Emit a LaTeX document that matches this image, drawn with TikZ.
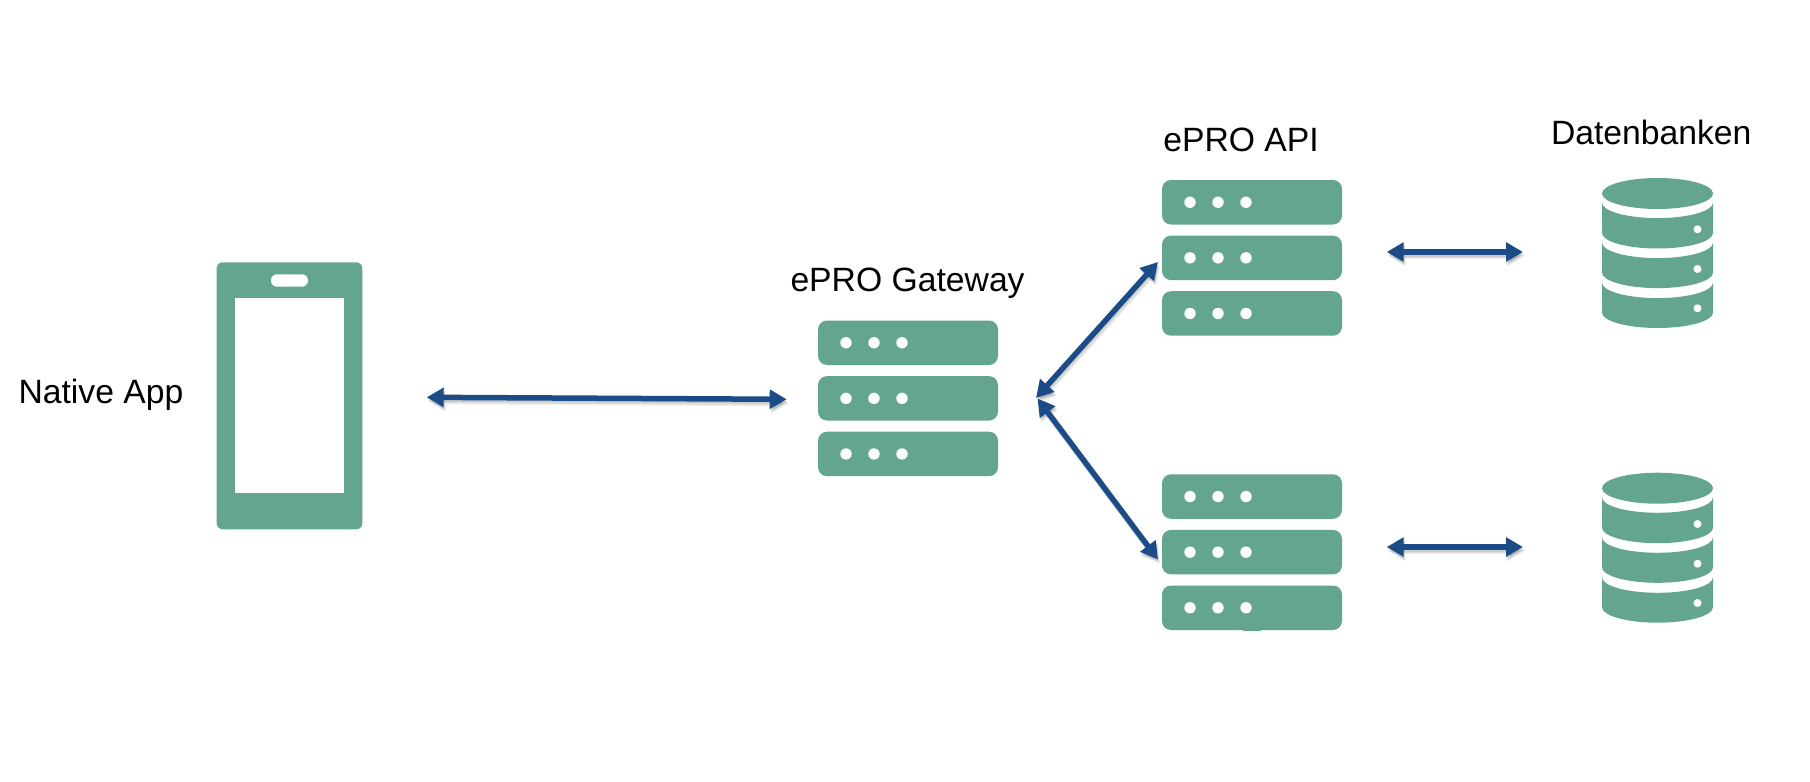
\documentclass[tikz,border=0pt]{standalone}
\usepackage{fontspec}
\setmainfont{Liberation Sans}
\usetikzlibrary{arrows.meta,shapes.geometric}
\definecolor{srvgreen}{HTML}{64A58F}
\definecolor{arrowblue}{HTML}{1C4C88}
\tikzset{
  x=1bp,y=-1bp,
  lbl/.style={anchor=base west,inner sep=0pt,outer sep=0pt,text=black,font=\fontsize{33.7bp}{40bp}\selectfont},
  srvrow/.style={rectangle,fill=srvgreen,draw=none,rounded corners=9bp,minimum width=180bp,minimum height=44.5bp,inner sep=0pt,outer sep=0pt},
  srvdot/.style={circle,fill=white,draw=none,minimum size=11.4bp,inner sep=0pt,outer sep=0pt},
  dbdot/.style={circle,fill=white,draw=none,minimum size=8bp,inner sep=0pt,outer sep=0pt},
  dbtop/.style={ellipse,fill=srvgreen,draw=none,minimum width=111bp,minimum height=31bp,inner sep=0pt,outer sep=0pt},
  link/.style={draw=arrowblue,line width=5.5bp,{Triangle[length=17bp,width=18.5bp,fill=arrowblue]}-{Triangle[length=17bp,width=18.5bp,fill=arrowblue]}},
  linkshadow/.style={draw=black,opacity=0.07,{Triangle[length=17bp,width=19bp,fill=black]}-{Triangle[length=17bp,width=19bp,fill=black]}},
}
% one server row with three dots: name, left x, top y
\newcommand{\srvrowdraw}[3]{%
  \node[srvrow] (#1) at (#2+90,#3+22.25) {};
  \node[srvdot] (#1d1) at (#2+28,#3+22.25) {};
  \node[srvdot] (#1d2) at (#2+56,#3+22.25) {};
  \node[srvdot] (#1d3) at (#2+84,#3+22.25) {};
}
\newcommand{\srvstack}[3]{%
  \srvrowdraw{#1a}{#2}{#3}
  \srvrowdraw{#1b}{#2}{#3+55.6}
  \srvrowdraw{#1c}{#2}{#3+111.2}
}
% one database cylinder: name, y offset
\newcommand{\dbdraw}[2]{%
  \node[dbtop] (#1top) at (1657.5,193.5+#2) {};
  \fill[srvgreen] (1602,202.6+#2) arc[start angle=180,end angle=0,x radius=55.5,y radius=15.5] -- (1713,233+#2) arc[start angle=0,end angle=180,x radius=55.5,y radius=15.5] -- cycle;
  \fill[srvgreen] (1602,242.6+#2) arc[start angle=180,end angle=0,x radius=55.5,y radius=15.5] -- (1713,272.6+#2) arc[start angle=0,end angle=180,x radius=55.5,y radius=15.5] -- cycle;
  \fill[srvgreen] (1602,282.6+#2) arc[start angle=180,end angle=0,x radius=55.5,y radius=15.5] -- (1713,312.5+#2) arc[start angle=0,end angle=180,x radius=55.5,y radius=15.5] -- cycle;
  \node[dbdot] (#1d1) at (1697.5,229.3+#2) {};
  \node[dbdot] (#1d2) at (1697.5,269+#2) {};
  \node[dbdot] (#1d3) at (1697.5,308.3+#2) {};
}
% connector with a soft drop shadow
\newcommand{\linkdraw}[2]{%
  \draw[linkshadow,line width=5bp,transform canvas={shift={(0.5bp,-2bp)}}] (#1) -- (#2);
  \draw[linkshadow,line width=5bp,transform canvas={shift={(1.2bp,-3.2bp)}}] (#1) -- (#2);
  \draw[linkshadow,line width=6bp,transform canvas={shift={(2bp,-4bp)}}] (#1) -- (#2);
  \draw[link] (#1) -- (#2);
}
\begin{document}
\begin{tikzpicture}
\useasboundingbox[fill=white] (0,0) rectangle (1810,782);

% phone
\node[rectangle,fill=srvgreen,draw=none,rounded corners=6bp,minimum width=145.6bp,minimum height=267bp,inner sep=0pt,outer sep=0pt] (phone) at (289.5,395.8) {};
\node[rectangle,fill=white,draw=none,minimum width=109bp,minimum height=195bp,inner sep=0pt,outer sep=0pt] (screen) at (289.5,395.8) {};
\node[rectangle,fill=white,draw=none,rounded corners=6bp,minimum width=37bp,minimum height=12.4bp,inner sep=0pt,outer sep=0pt] (slot) at (289.5,280.5) {};

% servers
\srvstack{gw}{818}{320.5}
\srvstack{apiu}{1162}{180}
\srvstack{apil}{1162}{474.3}
\fill[srvgreen] (1243,628) rectangle (1261,630.8);

% databases
\dbdraw{dbu}{0}
\dbdraw{dbl}{294.7}

% labels
\node[lbl] (tapp) at (18.5,403.3) {Native App};
\node[lbl] (tgw) at (790.5,291) {ePRO Gateway};
\node[lbl] (tapi) at (1163.3,151.5) {ePRO API};
\node[lbl] (tdb) at (1551,144) {Datenbanken};

% connector end points
\coordinate (appR) at (426.7,397.3);
\coordinate (gwL) at (786.7,399.3);
\coordinate (gwRu) at (1036,398);
\coordinate (gwRl) at (1037.5,398.5);
\coordinate (apiuL) at (1158,262);
\coordinate (apilL) at (1158,559.5);
\coordinate (apiuR) at (1386.7,252);
\coordinate (dbuL) at (1523,252);
\coordinate (apilR) at (1386.7,547);
\coordinate (dblL) at (1523,547);

\linkdraw{appR}{gwL}
\linkdraw{gwRu}{apiuL}
\linkdraw{gwRl}{apilL}
\linkdraw{apiuR}{dbuL}
\linkdraw{apilR}{dblL}
\end{tikzpicture}
\end{document}
